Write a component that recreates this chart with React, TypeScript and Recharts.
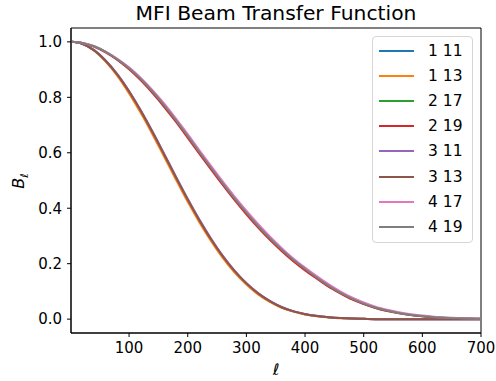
import React from 'react';
import { LineChart, Line, XAxis, YAxis, Legend, ReferenceArea } from 'recharts';

const FONT = '"DejaVu Sans", sans-serif';

const ells = [1, 20, 40, 60, 80, 100, 120, 140, 160, 180, 200, 220, 240, 260, 280, 300, 320, 340, 360, 380, 400, 420, 440, 460, 480, 500, 520, 540, 560, 580, 600, 620, 640, 660, 680, 700];

const b1_11 = [1.000, 0.993, 0.970, 0.932, 0.882, 0.820, 0.750, 0.673, 0.592, 0.510, 0.430, 0.355, 0.286, 0.225, 0.172, 0.128, 0.092, 0.064, 0.043, 0.028, 0.018, 0.011, 0.007, 0.004, 0.002, 0.001, 0.000, 0.000, 0.000, 0.000, 0.000, 0.000, 0.000, 0.000, 0.000, 0.000];
const b1_13 = [1.000, 0.993, 0.969, 0.929, 0.877, 0.814, 0.743, 0.666, 0.585, 0.503, 0.423, 0.349, 0.281, 0.220, 0.168, 0.125, 0.089, 0.062, 0.041, 0.027, 0.017, 0.010, 0.006, 0.003, 0.002, 0.001, 0.000, 0.000, 0.000, 0.000, 0.000, 0.000, 0.000, 0.000, 0.000, 0.000];
const b2_17 = [1.000, 0.996, 0.984, 0.964, 0.937, 0.904, 0.865, 0.820, 0.770, 0.716, 0.659, 0.601, 0.544, 0.488, 0.434, 0.383, 0.335, 0.291, 0.250, 0.213, 0.180, 0.149, 0.120, 0.095, 0.073, 0.055, 0.041, 0.030, 0.022, 0.015, 0.010, 0.007, 0.004, 0.003, 0.002, 0.001];
const b2_19 = [1.000, 0.996, 0.983, 0.962, 0.935, 0.901, 0.861, 0.815, 0.765, 0.711, 0.654, 0.596, 0.539, 0.483, 0.429, 0.378, 0.330, 0.286, 0.246, 0.209, 0.176, 0.146, 0.117, 0.093, 0.071, 0.054, 0.040, 0.029, 0.021, 0.015, 0.010, 0.006, 0.004, 0.003, 0.002, 0.001];
const b3_11 = [1.000, 0.993, 0.971, 0.933, 0.884, 0.823, 0.753, 0.677, 0.596, 0.514, 0.434, 0.359, 0.290, 0.228, 0.175, 0.130, 0.094, 0.066, 0.044, 0.029, 0.019, 0.012, 0.007, 0.004, 0.002, 0.001, 0.000, 0.000, 0.000, 0.000, 0.000, 0.000, 0.000, 0.000, 0.000, 0.000];
const b3_13 = [1.000, 0.993, 0.970, 0.932, 0.882, 0.821, 0.751, 0.674, 0.593, 0.511, 0.431, 0.356, 0.287, 0.226, 0.173, 0.129, 0.093, 0.065, 0.043, 0.028, 0.018, 0.011, 0.007, 0.004, 0.002, 0.001, 0.000, 0.000, 0.000, 0.000, 0.000, 0.000, 0.000, 0.000, 0.000, 0.000];
const b4_17 = [1.000, 0.996, 0.985, 0.965, 0.939, 0.908, 0.870, 0.826, 0.777, 0.723, 0.667, 0.609, 0.552, 0.496, 0.442, 0.391, 0.343, 0.298, 0.257, 0.219, 0.186, 0.155, 0.126, 0.100, 0.078, 0.060, 0.045, 0.034, 0.025, 0.018, 0.013, 0.009, 0.006, 0.004, 0.003, 0.002];
const b4_19 = [1.000, 0.996, 0.984, 0.964, 0.937, 0.905, 0.866, 0.821, 0.771, 0.717, 0.660, 0.602, 0.545, 0.489, 0.435, 0.384, 0.336, 0.292, 0.251, 0.214, 0.181, 0.150, 0.121, 0.096, 0.074, 0.056, 0.042, 0.031, 0.022, 0.016, 0.011, 0.007, 0.005, 0.003, 0.002, 0.001];

const seriesNames = ['1 11', '1 13', '2 17', '2 19', '3 11', '3 13', '4 17', '4 19'];
const seriesValues = [b1_11, b1_13, b2_17, b2_19, b3_11, b3_13, b4_17, b4_19];
const seriesColors = ['#1f77b4', '#ff7f0e', '#2ca02c', '#d62728', '#9467bd', '#8c564b', '#e377c2', '#7f7f7f'];

const xTicks = [100, 200, 300, 400, 500, 600, 700];
const yTicks = [0, 0.2, 0.4, 0.6, 0.8, 1.0];

const data = ells.map((ell, i) => {
  const row: Record<string, number> = { ell };
  seriesValues.forEach((vals, k) => {
    row['s' + k] = vals[i];
  });
  return row;
});

const renderLegend = () => (
  <div
    style={{
      width: 101,
      height: 207,
      boxSizing: 'border-box',
      border: '1px solid #d6d6d6',
      borderRadius: 4,
      background: '#fff',
      position: 'relative',
      fontFamily: FONT,
    }}
  >
    {seriesNames.map((n, k) => (
      <div
        key={n}
        style={{
          position: 'absolute',
          left: 6,
          top: 13.5 + k * 25.2 - 10,
          height: 20,
          display: 'flex',
          alignItems: 'center',
        }}
      >
        <div style={{ width: 35, height: 2, background: seriesColors[k] }} />
        <span style={{ marginLeft: 14, fontSize: 15.5, color: '#000', lineHeight: '20px', whiteSpace: 'nowrap' }}>{n}</span>
      </div>
    ))}
  </div>
);

const YLabel = () => (
  <text
    x={0}
    y={0}
    transform="translate(24,181) rotate(-90)"
    textAnchor="middle"
    fontFamily={FONT}
    fontSize={16}
    fill="#000"
  >
    <tspan fontStyle="italic">B</tspan>
    <tspan fontSize={11} fontStyle="italic" dy={4}>ℓ</tspan>
  </text>
);

const XLabel = () => (
  <text x={276} y={375} textAnchor="middle" fontFamily={FONT} fontSize={16} fontStyle="italic" fill="#000">
    ℓ
  </text>
);

export default function App() {
  return (
    <div style={{ position: 'fixed', left: 0, top: 0, width: 496, height: 381, background: '#fff' }}>
      <div
        style={{
          position: 'absolute',
          left: 71,
          width: 410,
          top: 1,
          textAlign: 'center',
          fontFamily: FONT,
          fontSize: 20.3,
          color: '#000',
          lineHeight: '24px',
          whiteSpace: 'nowrap',
        }}
      >
        MFI Beam Transfer Function
      </div>
      <LineChart width={496} height={381} data={data} margin={{ top: 28, right: 15, left: 0, bottom: 0 }}>
        <XAxis
          dataKey="ell"
          type="number"
          domain={[1, 700]}
          ticks={xTicks}
          allowDataOverflow
          height={48}
          tickSize={4}
          tickMargin={5}
          tick={{ fontSize: 15, fill: '#000', fontFamily: FONT }}
          tickLine={{ stroke: '#000' }}
          axisLine={{ stroke: '#000' }}
          label={<XLabel />}
        />
        <YAxis
          type="number"
          domain={[-0.05, 1.05]}
          ticks={yTicks}
          allowDataOverflow
          width={71}
          tickSize={4}
          tickMargin={5}
          tickFormatter={(v: number) => v.toFixed(1)}
          tick={{ fontSize: 15, fill: '#000', fontFamily: FONT }}
          tickLine={{ stroke: '#000' }}
          axisLine={{ stroke: '#000' }}
          label={<YLabel />}
        />
        <ReferenceArea x1={1} x2={700} y1={-0.05} y2={1.05} fill="none" stroke="#000" strokeWidth={1} ifOverflow="visible" />
        {seriesNames.map((n, k) => (
          <Line
            key={n}
            name={n}
            dataKey={'s' + k}
            type="monotone"
            stroke={seriesColors[k]}
            strokeWidth={2}
            dot={false}
            activeDot={false}
            isAnimationActive={false}
          />
        ))}
        <Legend
          content={renderLegend}
          layout="horizontal"
          verticalAlign="middle"
          align="center"
          wrapperStyle={{ left: 372, top: 36, width: 101, height: 207 }}
        />
      </LineChart>
    </div>
  );
}
